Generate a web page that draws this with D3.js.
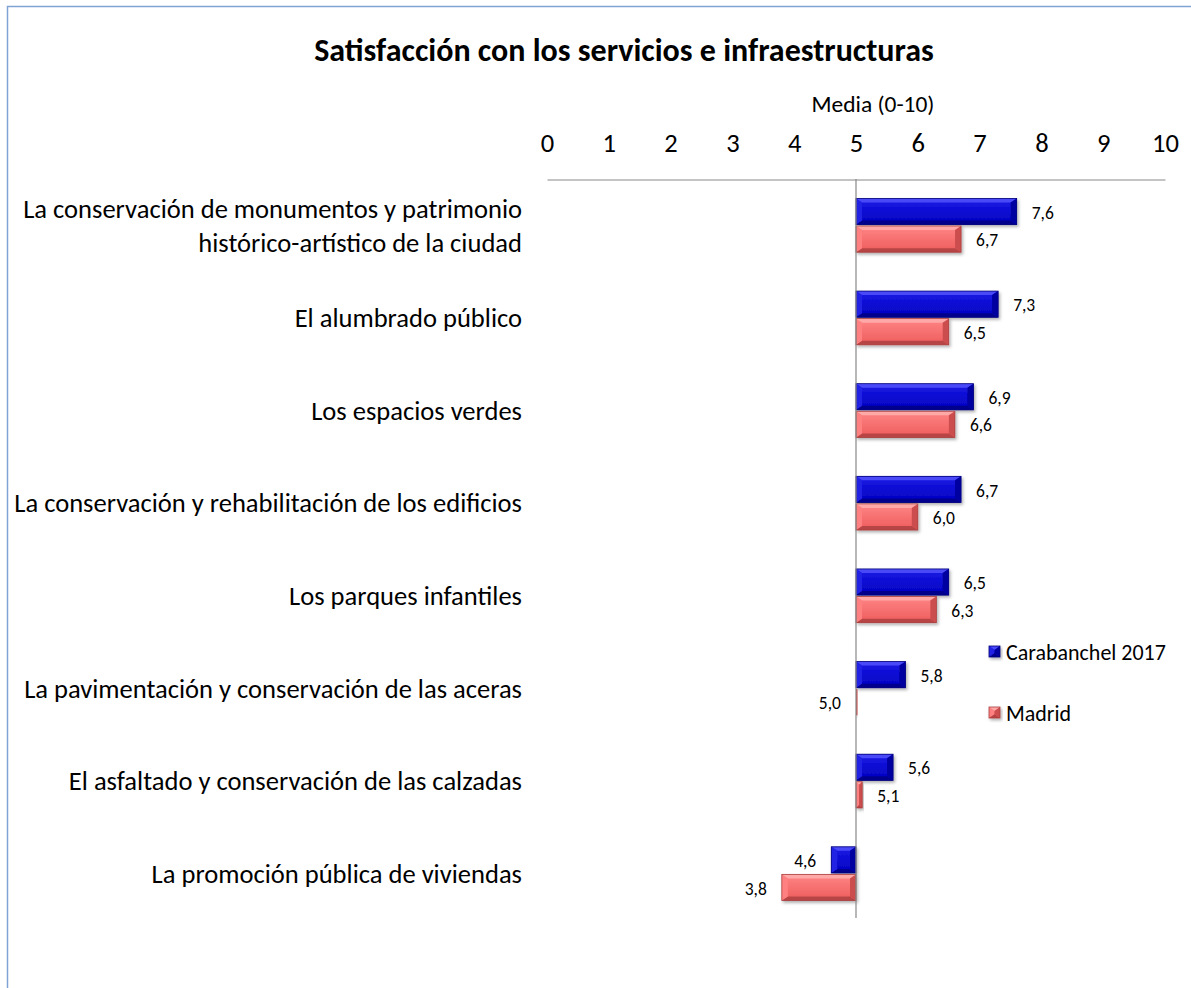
<!DOCTYPE html>
<html><head><meta charset="utf-8">
<script src="https://cdn.jsdelivr.net/npm/d3@7"></script>
<style>
body{margin:0;background:#fff;}
svg{display:block;font-family:Carlito, Calibri, "Open Sans", sans-serif;}
</style></head>
<body><svg id="chart" width="1191" height="988"></svg>
<script>
const title = "Satisfacción con los servicios e infraestructuras";
const axisTitle = "Media (0-10)";
const categories = [
  "La conservación de monumentos y patrimonio\nhistórico-artístico de la ciudad",
  "El alumbrado público",
  "Los espacios verdes",
  "La conservación y rehabilitación de los edificios",
  "Los parques infantiles",
  "La pavimentación y conservación de las aceras",
  "El asfaltado y conservación de las calzadas",
  "La promoción pública de viviendas"
];
const seriesNames = ["Carabanchel 2017", "Madrid"];
const carabanchel = [7.6, 7.3, 6.9, 6.7, 6.5, 5.8, 5.6, 4.6];
const madrid = [6.7, 6.5, 6.6, 6.0, 6.3, 5.0, 5.1, 3.8];
const tickValues = [0,1,2,3,4,5,6,7,8,9,10];
const baseValue = 5;

const svg = d3.select("#chart");
const defs = svg.append("defs");

// measure helper: font size so that sample text has the given width
function fitSize(sample, targetWidth, weight){
  const t = svg.append("text").attr("font-size",20).attr("font-weight",weight||"normal").text(sample);
  const w = t.node().getComputedTextLength();
  t.remove();
  return 20 * targetWidth / w;
}
const fsCat = fitSize("La conservación y rehabilitación de los edificios", 508);
const fsTitle = fitSize(title, 620, "bold");
const fsTick = fsCat;
const fsAxisT = fitSize(axisTitle, 123);
const fsVal = fsCat * 0.66;
const fsLeg = fitSize("Carabanchel 2017", 160);

const palettes = {
  "Carabanchel 2017": {top:"#4a4af8", left:"#2424e4", right:"#0000a0", bottom:"#00008c", c1:"#1a1ae6", c2:"#0000c0", stroke:"#00007a"},
  "Madrid": {top:"#ffa8a8", left:"#ff8080", right:"#cc4e4e", bottom:"#b84444", c1:"#ff8585", c2:"#ee5c5c", stroke:"#a84040"}
};
seriesNames.forEach((s,i)=>{
  const p = palettes[s];
  const g = defs.append("linearGradient").attr("id","grad"+i).attr("x1",0).attr("y1",0).attr("x2",0).attr("y2",1);
  g.append("stop").attr("offset","0%").attr("stop-color",p.c1);
  g.append("stop").attr("offset","100%").attr("stop-color",p.c2);
});
const f = defs.append("filter").attr("id","shadow").attr("x","-20%").attr("y","-20%").attr("width","140%").attr("height","160%");
f.append("feDropShadow").attr("dx",1.5).attr("dy",2).attr("stdDeviation",1.5).attr("flood-color","#000").attr("flood-opacity",0.3);

// border
svg.append("path").attr("d","M7.5,1000V6.5H1200").attr("fill","none").attr("stroke","#7fa3d3").attr("stroke-width",1.5);

// title
svg.append("text").attr("x",624).attr("y",50).attr("dy","0.35em").attr("text-anchor","middle")
  .attr("font-size",fsTitle).attr("font-weight","bold").attr("fill","#000").text(title);
svg.append("text").attr("x",873).attr("y",104).attr("dy","0.35em").attr("text-anchor","middle")
  .attr("font-size",fsAxisT).attr("fill","#000").text(axisTitle);

const x = d3.scaleLinear().domain([0,10]).range([547,1165]);
const y0 = d3.scaleBand().domain(categories).range([179,920]).paddingInner(0.42).paddingOuter(0.21);
const y1 = d3.scaleBand().domain(seriesNames).range([0,y0.bandwidth()]).paddingInner(0.05);

// axis
const axis = d3.axisTop(x).tickValues(tickValues).tickSize(0).tickSizeOuter(0).tickPadding(0).tickFormat(d3.format("d"));
const ag = svg.append("g").attr("transform","translate(0,179.5)").call(axis);
ag.attr("font-family",null).attr("font-size",null);
ag.select(".domain").attr("stroke","#888").attr("stroke-width",1);
ag.selectAll(".tick text").attr("font-size",fsTick).attr("fill","#000").attr("y",-37).attr("dy","0.35em");

// category labels
categories.forEach(c=>{
  const lines = c.split("\n");
  const cy = y0(c) + y0.bandwidth()/2;
  const lh = 34;
  const t = svg.append("text").attr("text-anchor","end").attr("font-size",fsCat).attr("fill","#000");
  lines.forEach((l,i)=>{
    t.append("tspan").attr("x",522).attr("y", cy + (i - (lines.length-1)/2)*lh).attr("dy","0.35em").text(l);
  });
});

const data = seriesNames.map((s,i)=>({name:s, idx:i, values: i===0?carabanchel:madrid}));

function bevelBar(g, x0, y, w, h, p, gi){
  const b = Math.min(6, w/2, h/2);
  const bv = Math.min(4, h/2, w/2);
  const grp = g.append("g").attr("filter","url(#shadow)");
  const base = grp.append("rect").attr("x",x0).attr("y",y).attr("width",Math.max(w,1.5)).attr("height",h).attr("fill","url(#grad"+gi+")");
  if (w < 2) { base.attr("fill",p.right); return; }
  const x1 = x0 + w, y2 = y + h;
  grp.append("polygon").attr("points",[[x0,y],[x1,y],[x1-b,y+bv],[x0+b,y+bv]].join(" ")).attr("fill",p.top);
  grp.append("polygon").attr("points",[[x0,y2],[x1,y2],[x1-b,y2-bv],[x0+b,y2-bv]].join(" ")).attr("fill",p.bottom);
  grp.append("polygon").attr("points",[[x0,y],[x0+b,y+bv],[x0+b,y2-bv],[x0,y2]].join(" ")).attr("fill",p.left);
  grp.append("polygon").attr("points",[[x1,y],[x1-b,y+bv],[x1-b,y2-bv],[x1,y2]].join(" ")).attr("fill",p.right);
  grp.append("rect").attr("x",x0).attr("y",y).attr("width",w).attr("height",h).attr("fill","none").attr("stroke",p.stroke).attr("stroke-width",0.8);
}

const barsG = svg.append("g");
data.forEach(s=>{
  s.values.forEach((v,k)=>{
    const c = categories[k];
    const yy = y0(c) + y1(s.name);
    const h = y1.bandwidth();
    const xa = x(Math.min(v, baseValue)), xb = x(Math.max(v, baseValue));
    bevelBar(barsG, xa, yy, xb - xa, h, palettes[s.name], s.idx);
    const pos = v > baseValue;
    svg.append("text").attr("font-size",fsVal).attr("fill","#000")
      .attr("x", pos ? xb + 15 : xa - 15)
      .attr("text-anchor", pos ? "start" : "end")
      .attr("y", yy + h/2 + 1).attr("dy","0.35em")
      .text(d3.format(".1f")(v).replace(".",","));
  });
});

// base line
svg.append("line").attr("x1",x(baseValue)).attr("x2",x(baseValue)).attr("y1",179).attr("y2",918)
  .attr("stroke","#888").attr("stroke-width",1.2);

// legend
const legY = [652, 713];
seriesNames.forEach((s,i)=>{
  const p = palettes[s];
  const g = svg.append("g").attr("transform",`translate(989,${legY[i]-6})`);
  bevelBar(g, 0, 0, 11, 11, p, i);
  svg.append("text").attr("x",1006).attr("y",legY[i]).attr("dy","0.35em").attr("font-size",fsLeg).attr("fill","#000").text(s);
});
</script>
</body></html>
